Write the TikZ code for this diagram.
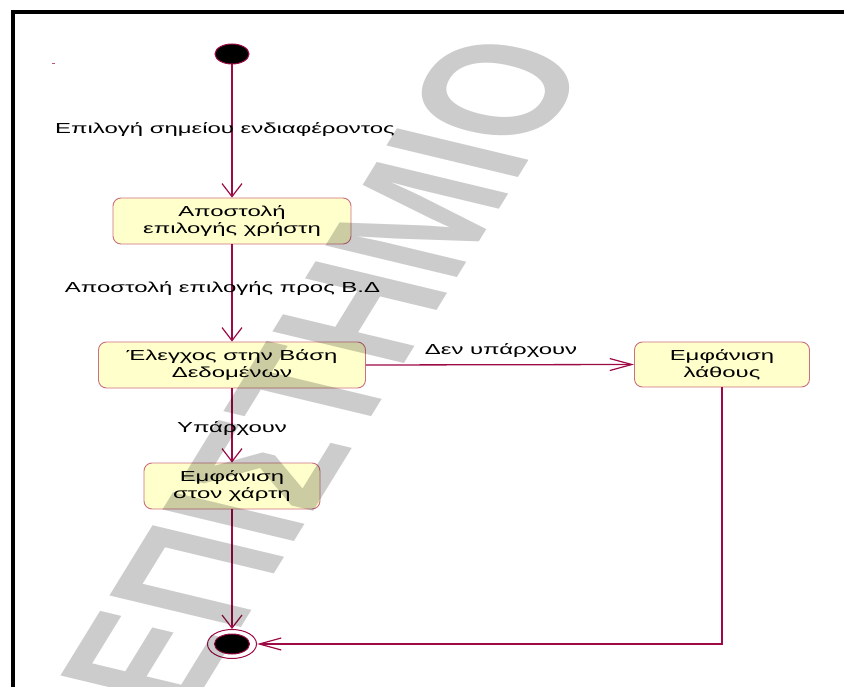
\documentclass[tikz,border=0pt]{standalone}
\usepackage{fontspec}
\usetikzlibrary{arrows.meta,shapes.geometric}
\newfontfamily\dfont[FakeStretch=1.65]{Liberation Sans}
\newfontfamily\wfont{Liberation Sans Bold}
\definecolor{conncol}{RGB}{158,10,70}
\definecolor{boxline}{RGB}{205,110,130}
\definecolor{boxfill}{RGB}{255,255,204}
\tikzset{
  every node/.style={font=\dfont\fontsize{14.5}{17}\selectfont},
  statebox/.style={draw=boxline, line width=0.9pt, fill=boxfill, rounded corners=8pt,
    align=center, inner sep=0pt},
  conn/.style={draw=conncol, line width=1.3pt},
  vtip/.style={-{Straight Barb[length=13pt,width=20pt,line width=1.2pt]}},
  htip/.style={-{Straight Barb[length=22pt,width=12pt,line width=1.2pt]}},
  lbl/.style={anchor=base, inner sep=0pt},
  pseudo/.style={ellipse, fill=black, draw=conncol, line width=1pt, inner sep=0pt},
}
\begin{document}
\begin{tikzpicture}[x=1pt,y=-1pt]
\useasboundingbox (0,0) rectangle (844,687);
\fill[white] (0,0) rectangle (844,687);
% frame
\draw[line width=4pt, line join=miter] (13,689) -- (13,12) -- (846,12);
\draw[conncol!70, line width=1pt] (52,64) -- (55,64);

% states
\node[pseudo, minimum width=34pt, minimum height=20pt] (start) at (232,54) {};
\node[statebox, minimum width=238pt, minimum height=46pt] (send) at (232,221)
  {Αποστολή\\ επιλογής χρήστη};
\node[statebox, minimum width=267pt, minimum height=46pt] (check) at (232,365)
  {Έλεγχος στην Βάση\\ Δεδομένων};
\node[statebox, minimum width=175pt, minimum height=45pt] (err) at (722,364.5)
  {Εμφάνιση\\ λάθους};
\node[statebox, minimum width=176pt, minimum height=46pt] (map) at (232,486)
  {Εμφάνιση\\ στον χάρτη};
\node[ellipse, draw=conncol, line width=1pt, fill=white, minimum width=49pt,
  minimum height=29pt, inner sep=0pt] (final) at (232,644) {};
\node[pseudo, minimum width=35pt, minimum height=20pt] (finalin) at (final.center) {};

% transitions
\draw[conn, vtip] (start) -- (send);
\draw[conn, vtip] (send) -- (check);
\draw[conn, vtip] (check) -- (map);
\draw[conn, vtip] (map) -- (final);
\draw[conn, htip] (check.east) -- (err.west);
\draw[conn, htip] (err.south) |- (final.east);

% transition labels
\node[lbl] (l1) at (225,133.3) {Επιλογή σημείου ενδιαφέροντος};
\node[lbl] (l2) at (222.5,293) {Αποστολή επιλογής προς Β.Δ};
\node[lbl] (l3) at (501,355) {Δεν υπάρχουν};
\node[lbl] (l4) at (232,432) {Υπάρχουν};

% watermark
\begin{scope}
\clip (0,0) rectangle (844,687);
\begin{scope}[shift={(297,415)}, xscale=1.6]
\node[font=\wfont\fontsize{128}{128}\selectfont, text=black, text opacity=0.2,
  rotate=69, transform shape, inner sep=0pt] (wm) at (0,0) {ΝΕΠΙΣΤΗΜΙΟ};
\end{scope}
\end{scope}
\end{tikzpicture}
\end{document}
